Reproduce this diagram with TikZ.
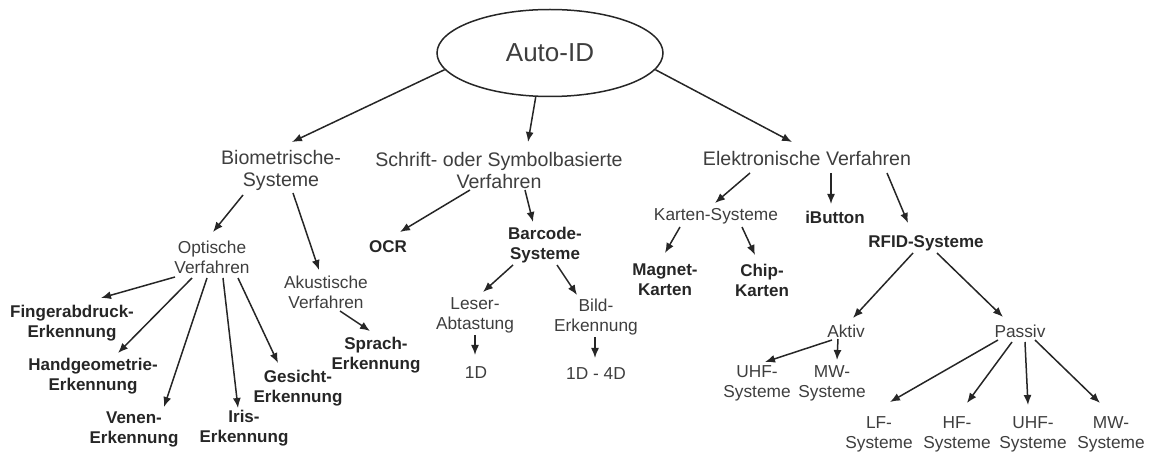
\documentclass[tikz,border=0pt]{standalone}
\usepackage{fontspec}
\setmainfont{Liberation Sans}
\usepackage{tikz}
\usetikzlibrary{shapes}
\usetikzlibrary{arrows.meta}

\definecolor{ink}{RGB}{38,38,38}
\definecolor{txt}{RGB}{62,62,62}

\begin{document}
\begin{tikzpicture}[x=1pt, y=-1pt,
  every node/.style={inner sep=1pt, align=center, text=txt},
  top/.style={font=\fontsize{19.6}{22}\selectfont},
  mid/.style={font=\fontsize{17.3}{20}\selectfont},
  bld/.style={font=\fontsize{17}{20}\selectfont\bfseries, text=ink},
  pfeil/.style={draw=ink, line width=1.5pt, -{Latex[length=10pt,width=8pt]}}]
 \useasboundingbox (0,0) rectangle (1149,454);

 % root
 \node[ellipse, draw=ink, line width=1.5pt, minimum width=226pt, minimum height=87pt,
   font=\fontsize{26}{30}\selectfont] (auto) at (550,53) {Auto-ID};

 % first level
 \node[top] (bio) at (281,170) {Biometrische-\\Systeme};
 \node[top] (schrift) at (499,170) {Schrift- oder Symbolbasierte\\Verfahren};
 \node[top] (elek) at (807,158) {Elektronische Verfahren};

 % biometrics
 \node[mid] (opt) at (212,257) {Optische\\Verfahren};
 \node[mid] (aku) at (326,292) {Akustische\\Verfahren};
 \node[bld] (finger) at (72,323) {Fingerabdruck-\\Erkennung};
 \node[bld] (hand) at (93,376) {Handgeometrie-\\Erkennung};
 \node[bld] (venen) at (134,429) {Venen-\\Erkennung};
 \node[bld] (iris) at (244,428) {Iris-\\Erkennung};
 \node[bld] (gesicht) at (298,388) {Gesicht-\\Erkennung};
 \node[bld] (sprach) at (376,355) {Sprach-\\Erkennung};

 % symbols
 \node[bld] (ocr) at (388,247) {OCR};
 \node[bld] (barcode) at (545,245) {Barcode-\\Systeme};
 \node[mid] (leser) at (475,315) {Leser-\\Abtastung};
 \node[mid] (bild) at (596,317) {Bild-\\Erkennung};
 \node[mid] (oneD) at (476,373) {1D};
 \node[mid] (fourD) at (596,374) {1D - 4D};

 % electronic
 \node[mid] (karten) at (716,216) {Karten-Systeme};
 \node[bld] (ibutton) at (835,217) {iButton};
 \node[bld] (rfid) at (926,243) {RFID-Systeme};
 \node[bld] (magnet) at (665,280) {Magnet-\\Karten};
 \node[bld] (chip) at (762,280) {Chip-\\Karten};
 \node[mid] (aktiv) at (846,331) {Aktiv};
 \node[mid] (passiv) at (1020,331) {Passiv};
 \node[mid] (uhfA) at (757,383) {UHF-\\Systeme};
 \node[mid] (mwA) at (832,383) {MW-\\Systeme};
 \node[mid] (lf) at (879,434) {LF-\\Systeme};
 \node[mid] (hf) at (957,434) {HF-\\Systeme};
 \node[mid] (uhfP) at (1033,434) {UHF-\\Systeme};
 \node[mid] (mwP) at (1111,434) {MW-\\Systeme};

 % arrows
 \draw[pfeil] (auto.189) -- ([xshift=11pt,yshift=28pt]bio.center);
 \draw[pfeil] (auto.252) -- ([xshift=29pt,yshift=28pt]schrift.center);
 \draw[pfeil] (auto.-9) -- ([xshift=-15pt,yshift=16pt]elek.center);

 \draw[pfeil] ([xshift=-38pt,yshift=-25pt]bio.center) -- ([xshift=1pt,yshift=25pt]opt.center);
 \draw[pfeil] ([xshift=12pt,yshift=-23pt]bio.center) -- ([xshift=-7pt,yshift=22pt]aku.center);
 \draw[pfeil] ([xshift=-37pt,yshift=-20pt]opt.center) -- ([xshift=29pt,yshift=25pt]finger.center);
 \draw[pfeil] ([xshift=-20pt,yshift=-21pt]opt.center) -- ([xshift=25pt,yshift=23pt]hand.center);
 \draw[pfeil] ([xshift=-5pt,yshift=-21pt]opt.center) -- ([xshift=30pt,yshift=22pt]venen.center);
 \draw[pfeil] ([xshift=11pt,yshift=-21pt]opt.center) -- ([xshift=-6pt,yshift=20pt]iris.center);
 \draw[pfeil] ([xshift=26pt,yshift=-21pt]opt.center) -- ([xshift=-20pt,yshift=25pt]gesicht.center);
 \draw[pfeil] ([xshift=14pt,yshift=-19pt]aku.center) -- ([xshift=-6pt,yshift=24pt]sprach.center);

 \draw[pfeil] ([xshift=-29pt,yshift=-20pt]schrift.center) -- ([xshift=12pt,yshift=15pt]ocr.center);
 \draw[pfeil] ([xshift=26pt,yshift=-20pt]schrift.center) -- ([xshift=-12pt,yshift=23pt]barcode.center);
 \draw[pfeil] ([xshift=-32pt,yshift=-20pt]barcode.center) -- ([xshift=8pt,yshift=23pt]leser.center);
 \draw[pfeil] ([xshift=12pt,yshift=-20pt]barcode.center) -- ([xshift=-19pt,yshift=22pt]bild.center);
 \draw[pfeil] ([yshift=-20pt]leser.center) -- ([xshift=-1pt,yshift=18pt]oneD.center);
 \draw[pfeil] ([xshift=-1pt,yshift=-20pt]bild.center) -- ([xshift=-1pt,yshift=16pt]fourD.center);

 \draw[pfeil] ([xshift=-57pt,yshift=-15pt]elek.center) -- ([xshift=-1pt,yshift=13pt]karten.center);
 \draw[pfeil] ([xshift=24pt,yshift=-15pt]elek.center) -- ([xshift=-4pt,yshift=13pt]ibutton.center);
 \draw[pfeil] ([xshift=80pt,yshift=-15pt]elek.center) -- ([xshift=-18pt,yshift=20pt]rfid.center);
 \draw[pfeil] ([xshift=-36pt,yshift=-11pt]karten.center) -- ([yshift=27pt]magnet.center);
 \draw[pfeil] ([xshift=26pt,yshift=-11pt]karten.center) -- ([xshift=-7pt,yshift=25pt]chip.center);
 \draw[pfeil] ([xshift=-13pt,yshift=-10pt]rfid.center) -- ([xshift=7pt,yshift=13pt]aktiv.center);
 \draw[pfeil] ([xshift=11pt,yshift=-10pt]rfid.center) -- ([xshift=-17pt,yshift=14pt]passiv.center);
 \draw[pfeil] ([xshift=-14pt,yshift=-9pt]aktiv.center) -- ([xshift=8pt,yshift=21pt]uhfA.center);
 \draw[pfeil] ([xshift=-8pt,yshift=-8pt]aktiv.center) -- ([xshift=5pt,yshift=23pt]mwA.center);
 \draw[pfeil] ([xshift=-22pt,yshift=-9pt]passiv.center) -- ([xshift=11pt,yshift=32pt]lf.center);
 \draw[pfeil] ([xshift=-8pt,yshift=-11pt]passiv.center) -- ([xshift=10pt,yshift=31pt]hf.center);
 \draw[pfeil] ([xshift=5pt,yshift=-11pt]passiv.center) -- ([xshift=-5pt,yshift=29pt]uhfP.center);
 \draw[pfeil] ([xshift=15pt,yshift=-9pt]passiv.center) -- ([xshift=-11pt,yshift=31pt]mwP.center);
\end{tikzpicture}
\end{document}
